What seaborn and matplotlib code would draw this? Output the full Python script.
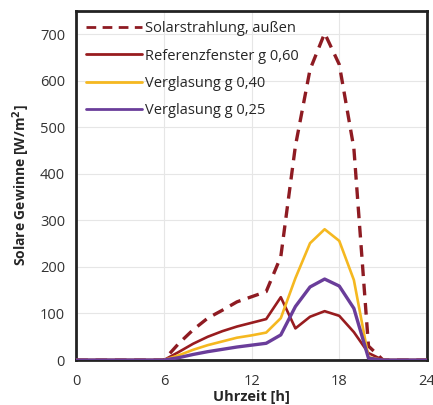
import numpy as np
import pandas as pd
import matplotlib
matplotlib.use("Agg")
import matplotlib.pyplot as plt
import seaborn as sns

hours = list(range(25))
solar_aussen = [0, 0, 0, 0, 0, 0, 0, 35, 65, 90, 107, 125, 136, 147, 222, 460, 624, 702, 635, 455, 30, 0, 0, 0, 0]
referenz_060 = [0, 0, 0, 0, 0, 0, 0, 17, 35, 50, 62, 72, 80, 88, 135, 68, 93, 105, 95, 60, 15, 0, 0, 0, 0]
verglasung_040 = [0, 0, 0, 0, 0, 0, 0, 10, 22, 32, 40, 48, 53, 59, 90, 176, 251, 281, 256, 172, 6, 0, 0, 0, 0]
verglasung_025 = [0, 0, 0, 0, 0, 0, 0, 5, 12, 18, 23, 28, 32, 36, 54, 115, 157, 174, 159, 111, 4, 0, 0, 0, 0]

labels = ["Solarstrahlung, außen", "Referenzfenster g 0,60", "Verglasung g 0,40", "Verglasung g 0,25"]
colors = ["#8e1b22", "#981c1f", "#f5b820", "#6a3d9a"]
x_ticks = [0, 6, 12, 18, 24]

sns.set_style("white")
plt.rcParams['font.family'] = ['Open Sans', 'DejaVu Sans']

fig = plt.figure(figsize=(4.33, 4.05), dpi=100)
ax = fig.add_axes([0.176, 0.111, 0.81, 0.862])

series = [solar_aussen, referenz_060, verglasung_040, verglasung_025]
widths = [2.4, 1.9, 1.9, 2.4]
for i, (vals, lab, col) in enumerate(zip(series, labels, colors)):
    df = pd.DataFrame({"Uhrzeit": hours, "Wert": vals})
    sns.lineplot(data=df, x="Uhrzeit", y="Wert", ax=ax, color=col,
                 linewidth=widths[i], label=lab, zorder=3 + i)

ax.lines[0].set_dashes([3.5, 2.3])
ax.set_xlim(0, 24)
ax.set_ylim(0, 750)
ax.set_xticks(x_ticks)
ax.set_xticklabels([str(t) for t in x_ticks])
ax.set_yticks(range(0, 800, 100))
ax.grid(True, color="#e6e6e6", linewidth=0.8)
ax.tick_params(axis="both", labelsize=10.5, length=0, colors="#333333")
ax.tick_params(axis="x", pad=10)
ax.tick_params(axis="y", pad=8)
for s in ax.spines.values():
    s.set_color("#222222")
    s.set_linewidth(2)
    s.set_zorder(2)
ax.set_xlabel("Uhrzeit [h]", fontsize=10.5, fontweight="bold", labelpad=1)
ax.set_ylabel("Solare Gewinne [W/m$^\\mathbf{2}$]", fontsize=10, fontweight="bold", labelpad=6)

leg = ax.legend(loc="upper left", frameon=False, fontsize=10.5, handlelength=3.8,
                handletextpad=0.2, labelspacing=0.85, borderaxespad=0.3)
for h in leg.get_lines():
    h.set_linewidth(2)

fig.savefig("out.png", dpi=100)
